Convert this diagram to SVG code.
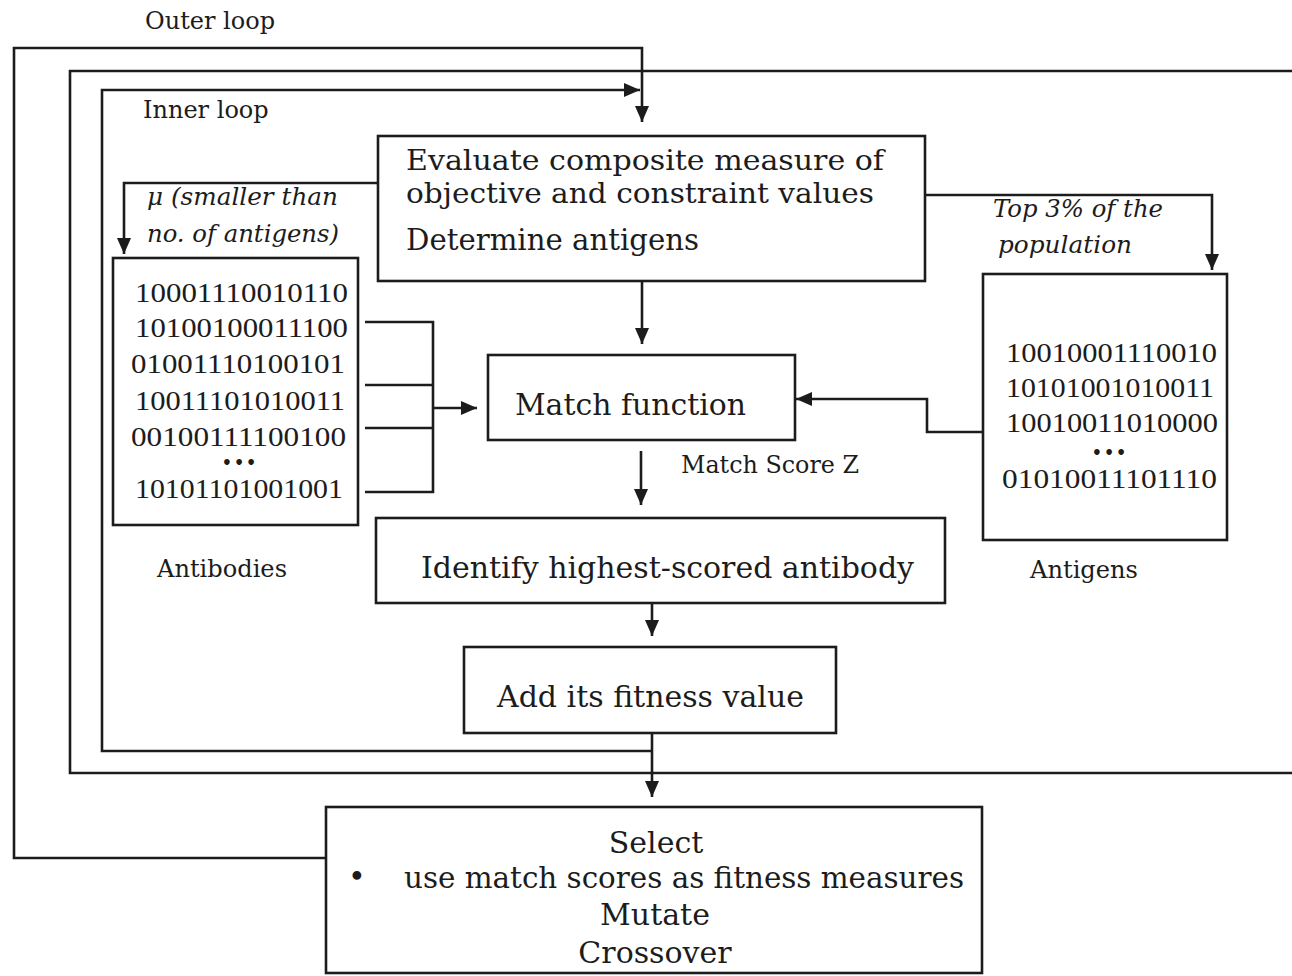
<svg xmlns="http://www.w3.org/2000/svg" width="1292" height="976" viewBox="0 0 1292 976">
<style>
.box{fill:none;stroke:#1c1c1c;stroke-width:2.6}
.ln{fill:none;stroke:#1c1c1c;stroke-width:2.6}
.t{font-family:"DejaVu Serif",serif;fill:#1c1c1c}
.big{font-size:30px}
.lab{font-size:24px}
.it{font-size:24px;font-style:italic}
.dig{font-family:"Liberation Serif",serif;font-size:28px;fill:#1c1c1c}
.dots{font-family:"DejaVu Serif",serif;font-size:16px;font-weight:bold;fill:#1c1c1c}
</style>
<defs>
<marker id="ah" markerUnits="userSpaceOnUse" markerWidth="16" markerHeight="14" refX="16" refY="7" orient="auto">
<path d="M0,0 L16,7 L0,14 z" fill="#1c1c1c"/>
</marker>
</defs>
<rect width="1292" height="976" fill="#ffffff"/>

<g id="connectors">
<polyline class="ln" points="327,858 14,858 14,48 642,48 642,122" marker-end="url(#ah)"/>
<polyline class="ln" points="1292,773 70,773 70,71 1292,71"/>
<polyline class="ln" points="652,751 102,751 102,90 640,90" marker-end="url(#ah)"/>
<line class="ln" x1="652" y1="733" x2="652" y2="797" marker-end="url(#ah)"/>
<line class="ln" x1="642" y1="281" x2="642" y2="344" marker-end="url(#ah)"/>
<line class="ln" x1="641" y1="451" x2="641" y2="505" marker-end="url(#ah)"/>
<line class="ln" x1="652" y1="604" x2="652" y2="636" marker-end="url(#ah)"/>
<polyline class="ln" points="378,183 124,183 124,254" marker-end="url(#ah)"/>
<polyline class="ln" points="925,195 1212,195 1212,270" marker-end="url(#ah)"/>
<polyline class="ln" points="365,322 433,322 433,492 365,492"/>
<line class="ln" x1="365" y1="385" x2="433" y2="385"/>
<line class="ln" x1="365" y1="428" x2="433" y2="428"/>
<line class="ln" x1="433" y1="408" x2="477" y2="408" marker-end="url(#ah)"/>
<polyline class="ln" points="982,432 927,432 927,399 796,399" marker-end="url(#ah)"/>
</g>

<g id="labels">
<text class="t lab" x="145" y="29">Outer loop</text>
<text class="t lab" x="143" y="118">Inner loop</text>
<text class="t it" x="147" y="205" textLength="191" lengthAdjust="spacingAndGlyphs">μ (smaller than</text>
<text class="t it" x="147" y="242" textLength="192" lengthAdjust="spacingAndGlyphs">no. of antigens)</text>
<text class="t it" x="993" y="217" textLength="170" lengthAdjust="spacingAndGlyphs">Top 3% of the</text>
<text class="t it" x="998" y="253" textLength="134" lengthAdjust="spacingAndGlyphs">population</text>
<text class="t lab" x="681" y="473" textLength="178" lengthAdjust="spacingAndGlyphs">Match Score Z</text>
</g>

<g id="evaluate">
<rect class="box" x="378" y="136" width="547" height="145"/>
<text class="t" font-size="28" x="406" y="170" textLength="478" lengthAdjust="spacingAndGlyphs">Evaluate composite measure of</text>
<text class="t" font-size="28" x="406" y="203" textLength="468" lengthAdjust="spacingAndGlyphs">objective and constraint values</text>
<text class="t big" x="406" y="250" textLength="293" lengthAdjust="spacingAndGlyphs">Determine antigens</text>
</g>

<g id="antibodies">
<rect class="box" x="113" y="258" width="245" height="267"/>
<text class="dig" x="135" y="302" textLength="213" lengthAdjust="spacingAndGlyphs">10001110010110</text>
<text class="dig" x="135" y="337" textLength="213" lengthAdjust="spacingAndGlyphs">10100100011100</text>
<text class="dig" x="131" y="373" textLength="214" lengthAdjust="spacingAndGlyphs">01001110100101</text>
<text class="dig" x="135" y="410" textLength="210" lengthAdjust="spacingAndGlyphs">10011101010011</text>
<text class="dig" x="131" y="446" textLength="215" lengthAdjust="spacingAndGlyphs">00100111100100</text>
<text class="dots" x="240" y="468" text-anchor="middle" letter-spacing="2">•••</text>
<text class="dig" x="135" y="498" textLength="208" lengthAdjust="spacingAndGlyphs">10101101001001</text>
<text class="t lab" x="157" y="577" textLength="130" lengthAdjust="spacingAndGlyphs">Antibodies</text>
</g>

<g id="antigens">
<rect class="box" x="983" y="274" width="244" height="266"/>
<text class="dig" x="1006" y="362" textLength="211" lengthAdjust="spacingAndGlyphs">10010001110010</text>
<text class="dig" x="1006" y="397" textLength="208" lengthAdjust="spacingAndGlyphs">10101001010011</text>
<text class="dig" x="1006" y="432" textLength="212" lengthAdjust="spacingAndGlyphs">10010011010000</text>
<text class="dots" x="1110" y="458" text-anchor="middle" letter-spacing="2">•••</text>
<text class="dig" x="1002" y="488" textLength="215" lengthAdjust="spacingAndGlyphs">01010011101110</text>
<text class="t lab" x="1030" y="578" textLength="108" lengthAdjust="spacingAndGlyphs">Antigens</text>
</g>

<g id="match">
<rect class="box" x="488" y="355" width="307" height="85"/>
<text class="t big" x="515" y="415" textLength="231" lengthAdjust="spacingAndGlyphs">Match function</text>
</g>

<g id="identify">
<rect class="box" x="376" y="518" width="569" height="85"/>
<text class="t big" x="421" y="578" textLength="493" lengthAdjust="spacingAndGlyphs">Identify highest-scored antibody</text>
</g>

<g id="addfitness">
<rect class="box" x="464" y="647" width="372" height="86"/>
<text class="t big" x="497" y="707" textLength="307" lengthAdjust="spacingAndGlyphs">Add its fitness value</text>
</g>

<g id="select">
<rect class="box" x="326" y="807" width="656" height="166"/>
<text class="t big" x="656" y="853" text-anchor="middle">Select</text>
<text class="t big" x="348" y="887">•</text>
<text class="t big" x="404" y="888" textLength="560" lengthAdjust="spacingAndGlyphs">use match scores as fitness measures</text>
<text class="t big" x="655" y="925" text-anchor="middle">Mutate</text>
<text class="t big" x="655" y="963" text-anchor="middle">Crossover</text>
</g>
</svg>
